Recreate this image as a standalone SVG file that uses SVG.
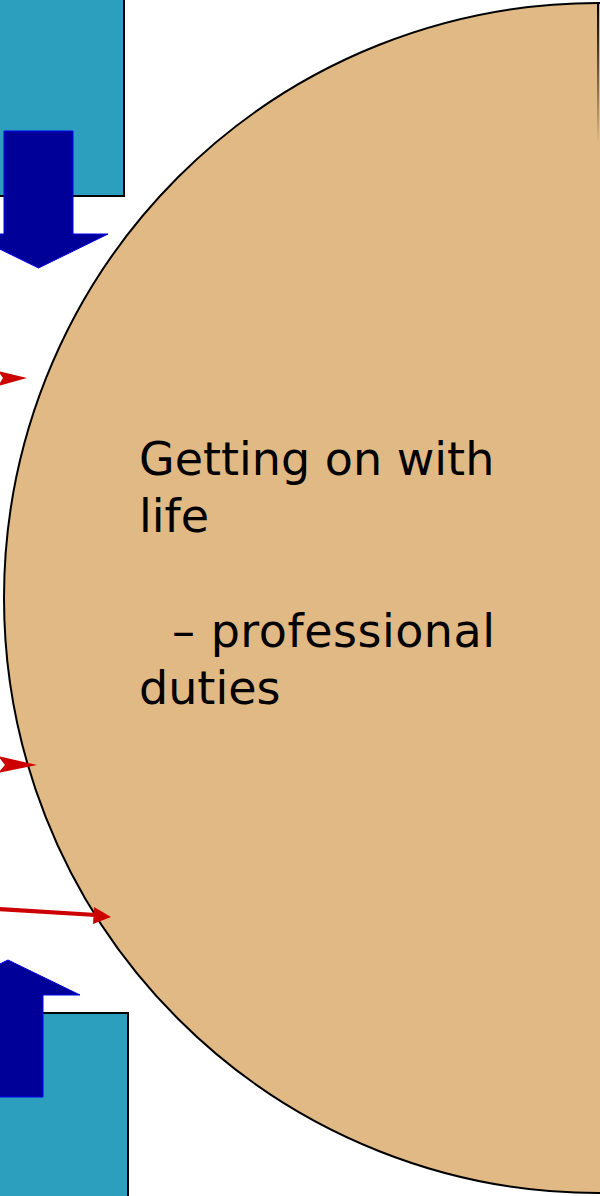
<svg xmlns="http://www.w3.org/2000/svg" width="600" height="1196" viewBox="0 0 600 1196">
<defs>
<linearGradient id="fade" x1="0" y1="0" x2="0" y2="1">
<stop offset="0" stop-color="#000" stop-opacity="1"/>
<stop offset="1" stop-color="#000" stop-opacity="0"/>
</linearGradient>
</defs>
<style>
.box{fill:#2b9fbd;stroke:#000;stroke-width:2}
.blk{fill:#000099;stroke:#0000ee;stroke-width:1}
.red{fill:#cc0000;stroke:none}
.redl{stroke:#cc0000;stroke-width:4;fill:none}
.lbl{font-family:"DejaVu Sans",sans-serif;font-size:46px;fill:#000}
</style>
<rect width="600" height="1196" fill="#fff"/>
<g id="box-top"><rect class="box" x="-10" y="-10" width="134" height="206"/></g>
<g id="box-bottom"><rect class="box" x="-10" y="1013" width="138" height="200"/></g>
<g id="circle">
<ellipse cx="598" cy="598" rx="594" ry="595" fill="#e1b985" stroke="#000" stroke-width="2"/>
<rect x="597" y="4" width="2" height="140" fill="url(#fade)"/>
<text class="lbl" x="139" y="475">Getting on with</text>
<text class="lbl" x="139" y="532">life</text>
<text class="lbl" x="172" y="647" textLength="323" lengthAdjust="spacing">– professional</text>
<text class="lbl" x="139" y="704">duties</text>
</g>
<g id="connectors">
<path class="blk" d="M4,131 H73 V234 H108 L38.5,268 L-31,234 H4 Z"/>
<path class="blk" d="M8,960 L80,995 H43 V1097 H-27 V995 H-64 Z"/>
<path class="red" d="M-2,371 L27,378 L-2,386 L3,378 Z"/>
<path class="red" d="M-2,756 L37,765 L-2,773 L5,765 Z"/>
<path class="redl" d="M-2,909 L96,915"/>
<path class="red" d="M94,907 L111,917 L93,924 Z"/>
</g>
</svg>
